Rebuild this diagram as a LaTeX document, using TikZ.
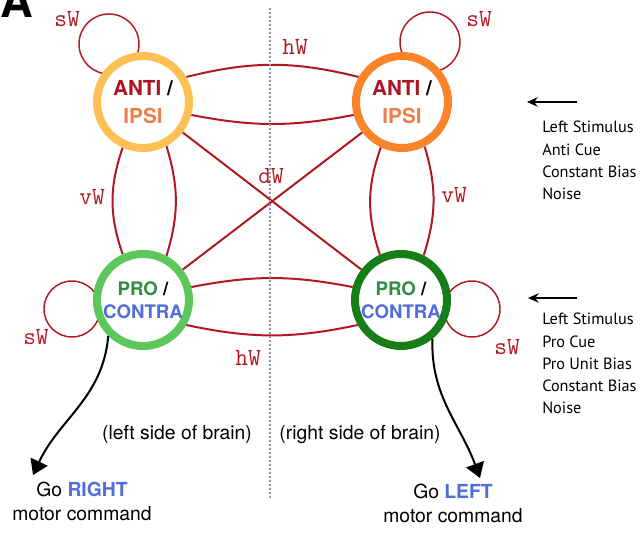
\documentclass[tikz,border=0pt]{standalone}
\usepackage{fontspec}
\setmainfont{TeX Gyre Heros}
\newfontfamily\cuefont{PT Sans}
\usetikzlibrary{arrows.meta}

\definecolor{conred}{RGB}{178,24,32}
\definecolor{antitext}{RGB}{172,22,34}
\definecolor{ipsitext}{RGB}{236,128,72}
\definecolor{protext}{RGB}{50,140,70}
\definecolor{contratext}{RGB}{78,110,222}
\definecolor{ringAL}{RGB}{252,192,84}
\definecolor{ringAR}{RGB}{250,132,42}
\definecolor{ringPL}{RGB}{92,200,92}
\definecolor{ringPR}{RGB}{22,126,22}
\definecolor{sidegray}{RGB}{150,150,170}

\pgfdeclarelayer{links}
\pgfsetlayers{links,main}

\tikzset{
  unit/.style={circle,draw=#1,line width=6pt,fill=white,minimum size=69pt,
    inner sep=0pt,align=center},
  antifont/.style={font=\bfseries\fontsize{15.5}{21}\selectfont},
  profont/.style={font=\bfseries\fontsize{14}{17.5}\selectfont},
  link/.style={conred,line width=1.5pt},
  selfloop/.style={conred,line width=1.1pt},
  wlabel/.style={text=conred,inner sep=0pt,font=\ttfamily\fontsize{18.5}{18.5}\selectfont},
  motor/.style={black,line width=1.5pt,-{Triangle[length=11pt,width=14pt]}},
  cue/.style={black,line width=1.3pt,-{Stealth[length=8pt,width=7pt]}},
  cuelist/.style={anchor=north west,align=left,inner sep=0pt,
    font=\cuefont\fontsize{12.2}{16.7}\selectfont},
  sidetext/.style={inner sep=0pt,font=\fontsize{14.5}{18}\selectfont}
}

\begin{document}
\begin{tikzpicture}[x=0.75pt,y=-0.75pt]
\useasboundingbox (0,0) rectangle (643,548);
\clip (0,0) rectangle (643,548);

\node[anchor=base west,inner sep=0pt,font=\bfseries\fontsize{34}{34}\selectfont] (panel) at (0,18) {A};

% midline
\draw[sidegray,line width=1.3pt,dash pattern=on 1.5pt off 1.5pt] (270,8) -- (270,500);

% units
\node[unit=ringAL,antifont] (antiL) at (143,102) {\textcolor{antitext}{ANTI} /\\\textcolor{ipsitext}{IPSI}};
\node[unit=ringAR,antifont] (antiR) at (402,102) {\textcolor{antitext}{ANTI} /\\\textcolor{ipsitext}{IPSI}};
\node[unit=ringPL,profont] (proL) at (143,300) {\textcolor{protext}{PRO} /\\\textcolor{contratext}{CONTRA}};
\node[unit=ringPR,profont] (proR) at (401,300) {\textcolor{protext}{PRO} /\\\textcolor{contratext}{CONTRA}};

\begin{pgfonlayer}{links}
  % self weights
  \draw[selfloop] ([shift={(-34,-58)}]antiL.center) circle[radius=30];
  \draw[selfloop] ([shift={(28,-60)}]antiR.center) circle[radius=30];
  \draw[selfloop] ([shift={(-71,9)}]proL.center) circle[radius=28];
  \draw[selfloop] ([shift={(71,9)}]proR.center) circle[radius=28];
  % horizontal
  \draw[link] (antiL.30) to[bend left=14] (antiR.150);
  \draw[link] (antiL.-15) to[bend right=11] (antiR.195);
  \draw[link] (proL.15) to[bend left=11] (proR.165);
  \draw[link] (proL.-30) to[bend right=12] (proR.210);
  % vertical
  \draw[link] (antiL.246) to[bend right=19] (proL.114);
  \draw[link] (antiL.298) to[bend left=17] (proL.62);
  \draw[link] (antiR.245) to[bend right=19] (proR.115);
  \draw[link] (antiR.297) to[bend left=17] (proR.63);
  % diagonal
  \draw[link] (antiL) -- (proR);
  \draw[link] (antiR) -- (proL);
\end{pgfonlayer}

\node[wlabel] (sWal) at (67,19) {sW};
\node[wlabel] (sWar) at (479,19) {sW};
\node[wlabel] (sWpl) at (36,337) {sW};
\node[wlabel] (sWpr) at (507,347) {sW};
\node[wlabel] (hWa) at (295,47) {hW};
\node[wlabel] (hWp) at (248,358) {hW};
\node[wlabel] (vWl) at (92,197) {vW};
\node[wlabel] (vWr) at (454,195) {vW};
\node[wlabel] (dW) at (271,176) {dW};

% motor outputs
\coordinate (goR) at (33,475);
\coordinate (goL) at (480,478);
\draw[motor] (proL.226) to[out=-95,in=65] (goR);
\draw[motor] (proR.-51) to[out=-92,in=110] (goL);
\node[sidetext,align=center,anchor=north] (outR) at (82,482) {Go \textcolor{contratext}{\bfseries RIGHT}\\motor command};
\node[sidetext,align=center,anchor=north] (outL) at (453,484) {Go \textcolor{contratext}{\bfseries LEFT}\\motor command};

\node[sidetext,anchor=base] (leftside) at (177,440) {(left side of brain)};
\node[sidetext,anchor=base] (rightside) at (360,440) {(right side of brain)};

% inputs
\coordinate (inAfrom) at (577,102);
\coordinate (inAto) at (527,102);
\coordinate (inPfrom) at (577,298);
\coordinate (inPto) at (528,298);
\draw[cue] (inAfrom) -- (inAto);
\draw[cue] (inPfrom) -- (inPto);
\node[cuelist] (cuesA) at (542,121) {Left Stimulus\\Anti Cue\\Constant Bias\\Noise};
\node[cuelist] (cuesP) at (542,313) {Left Stimulus\\Pro Cue\\Pro Unit Bias\\Constant Bias\\Noise};
\end{tikzpicture}
\end{document}
